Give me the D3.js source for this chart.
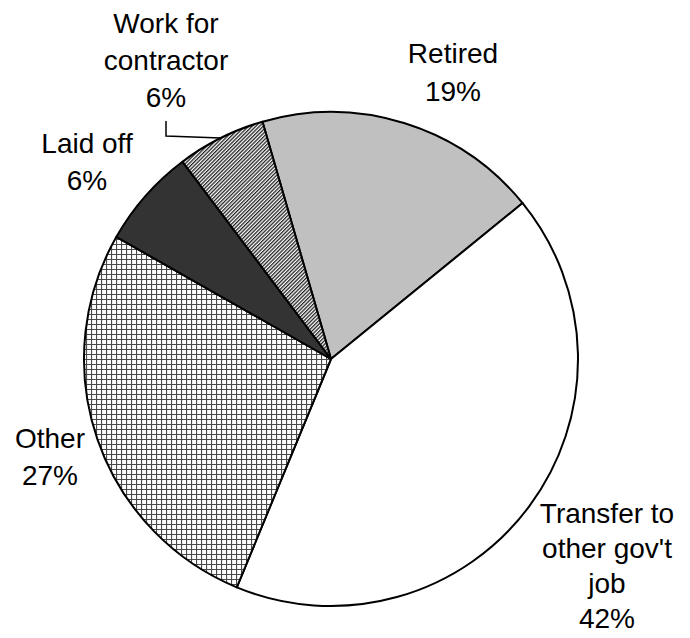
<!DOCTYPE html>
<html>
<head>
<meta charset="utf-8">
<script src="https://cdn.jsdelivr.net/npm/d3@7"></script>
<style>
  html, body { margin: 0; padding: 0; background: #fff; }
  svg { display: block; }
</style>
</head>
<body>
<svg id="chart" width="690" height="638"></svg>
<script>
// ---- Data ----
const categories = ["Retired", "Transfer to other gov't job", "Other", "Laid off", "Work for contractor"];
const values = [18.6, 42.1, 27.0, 6.5, 5.8];
const pctLabels = ["19%", "42%", "27%", "6%", "6%"];
const labelLines = [
  ["Retired"],
  ["Transfer to", "other gov't", "job"],
  ["Other"],
  ["Laid off"],
  ["Work for", "contractor"]
];

// ---- Layout / style (not data) ----
const W = 690, H = 638;
const cx = 331, cy = 359, R = 247;
const startDeg = -16.1;
const fills = ["#c0c0c0", "#ffffff", "url(#grid)", "#333333", "url(#hatch)"];
// label anchor: [center x, first baseline y, line spacing]
const labelPos = [
  [453, 63, 38],
  [607, 523, 35],
  [50, 448, 37],
  [87, 153, 37],
  [166, 33, 37]
];

const svg = d3.select("#chart");
const defs = svg.append("defs");

// grid (cross-hatch) pattern
const grid = defs.append("pattern")
  .attr("id", "grid").attr("patternUnits", "userSpaceOnUse")
  .attr("width", 5).attr("height", 5);
grid.append("rect").attr("width", 5).attr("height", 5).attr("fill", "#fff");
grid.append("path").attr("d", "M0,0.5H5M0.5,0V5")
  .attr("stroke", "#4a4a4a").attr("stroke-width", 1.2).attr("fill", "none");

// diagonal hatch pattern
const hatch = defs.append("pattern")
  .attr("id", "hatch").attr("patternUnits", "userSpaceOnUse")
  .attr("width", 2.6).attr("height", 10)
  .attr("patternTransform", "rotate(45)");
hatch.append("rect").attr("width", 2.6).attr("height", 10).attr("fill", "#fff");
hatch.append("rect").attr("width", 1.3).attr("height", 10).attr("fill", "#222");

const pie = d3.pie().sort(null).value(d => d)
  .startAngle(startDeg * Math.PI / 180)
  .endAngle((startDeg + 360) * Math.PI / 180);
const arcs = pie(values);
const arc = d3.arc().innerRadius(0).outerRadius(R);

const g = svg.append("g").attr("transform", `translate(${cx},${cy})`);
g.selectAll("path.slice").data(arcs).enter().append("path")
  .attr("class", "slice")
  .attr("d", arc)
  .attr("fill", (d, i) => fills[i])
  .attr("stroke", "#000")
  .attr("stroke-width", 2)
  .attr("stroke-linejoin", "round");

// leader line for "Work for contractor"
{
  const a = arcs[4];
  const mid = (a.startAngle + a.endAngle) / 2;
  const px = Math.sin(mid) * R + cx, py = -Math.cos(mid) * R + cy;
  const lx = labelPos[4][0];
  svg.append("path")
    .attr("d", `M${lx},${121}V${136}L${px},${py}`)
    .attr("fill", "none").attr("stroke", "#000").attr("stroke-width", 1.5);
}

// labels
const labels = svg.append("g")
  .attr("font-family", "Liberation Sans, Arial, sans-serif")
  .attr("font-size", 28)
  .attr("fill", "#000")
  .attr("text-anchor", "middle");
categories.forEach((c, i) => {
  const lines = labelLines[i].concat([pctLabels[i]]);
  const [x, y, dy] = labelPos[i];
  const t = labels.append("text").attr("x", x).attr("y", y);
  lines.forEach((ln, j) => {
    t.append("tspan").attr("x", x).attr("y", y + j * dy).text(ln);
  });
});
</script>
</body>
</html>
